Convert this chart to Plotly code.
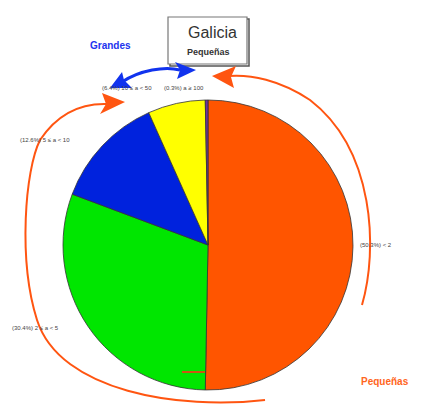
import plotly.graph_objects as go

# datos (tamano de empresa, Galicia)
tramos = ["< 2", "2 ≤ a < 5", "5 ≤ a < 10", "10 ≤ a < 50", "a ≥ 100"]
porcentajes = [50.3, 30.4, 12.6, 6.4, 0.3]
colores = ["#FF5500", "#00E600", "#0022DD", "#FFFF00", "#7030A0"]

W, H = 428, 409
OFF = 8  # margen del body de la pagina


def fx(x):
    return (x - OFF) / W


def fy(y):
    return 1 - (y - OFF) / H


def px(x, y):
    # pixel -> coordenadas paper
    return "%.4f %.4f" % (fx(x), fy(y))


def ruta(puntos):
    p = "M " + px(*puntos[0])
    for i in range(1, len(puntos), 3):
        p += " C " + ", ".join(px(*q) for q in puntos[i:i + 3])
    return p


def punta(a, b, c, d):
    return "M " + px(*a) + " L " + px(*b) + " L " + px(*c) + " L " + px(*d) + " Z"


fig = go.Figure()
fig.add_trace(go.Pie(
    values=porcentajes, labels=tramos, sort=False, direction="clockwise",
    rotation=0, textinfo="none", hoverinfo="label+percent", showlegend=False,
    marker=dict(colors=colores, line=dict(color="#333333", width=0.8)),
    domain=dict(x=[fx(63), fx(353)], y=[fy(390), fy(100)]),
))

etiquetas = [
    (358, 245, "left"),
    (10, 328, "left"),
    (18, 140, "left"),
    (100, 88, "left"),
    (206, 88, "right"),
]
anot = []
for (x, y, al), t, v in zip(etiquetas, tramos, porcentajes):
    anot.append(dict(x=fx(x), y=fy(y), xref="paper", yref="paper", xanchor=al, yanchor="middle",
                     text="(%.1f%%) %s" % (v, t), showarrow=False,
                     font=dict(size=6, color="#444444", family="Liberation Sans")))


def texto(x, y, t, size, color):
    return dict(x=fx(x), y=fy(y), xref="paper", yref="paper", xanchor="center", yanchor="middle",
                text=t, showarrow=False, font=dict(size=size, color=color, family="Liberation Sans"))


anot += [
    texto(212, 32, "Galicia", 16, "#333333"),
    texto(208, 52, "<b>Pequeñas</b>", 9, "#333333"),
    texto(110, 45, "<b>Grandes</b>", 10, "#2233EE"),
    texto(385, 381, "<b>Pequeñas</b>", 10, "#FF6622"),
]

naranja = "#FF5511"
azul = "#1133EE"
formas = [
    # sombra y caja del titulo
    dict(type="rect", xref="paper", yref="paper", x0=fx(170), x1=fx(249), y0=fy(66), y1=fy(19),
         line=dict(color="#555555", width=1.5), fillcolor="white", layer="below"),
    dict(type="rect", xref="paper", yref="paper", x0=fx(168), x1=fx(247), y0=fy(64), y1=fy(17),
         line=dict(color="#777777", width=1.2), fillcolor="white", layer="below"),
    # flecha naranja derecha
    dict(type="path", xref="paper", yref="paper", line=dict(color=naranja, width=2),
         path=ruta([(362, 305), (378, 250), (375, 150), (310, 100), (280, 80), (250, 74), (228, 76)])),
    dict(type="path", xref="paper", yref="paper", line=dict(color=naranja, width=0), fillcolor=naranja,
         path=punta((212, 76), (236, 66), (231, 77), (234, 88))),
    # flecha naranja izquierda
    dict(type="path", xref="paper", yref="paper", line=dict(color=naranja, width=2),
         path=ruta([(265, 400), (180, 410), (60, 392), (37, 320), (18, 260), (25, 170), (40, 140),
                    (60, 110), (85, 103), (108, 104)])),
    dict(type="path", xref="paper", yref="paper", line=dict(color=naranja, width=0), fillcolor=naranja,
         path=punta((125, 102), (102, 93), (106, 104), (100, 114))),
    # marca naranja en la base
    dict(type="line", xref="paper", yref="paper", x0=fx(182), x1=fx(205), y0=fy(372), y1=fy(372),
         line=dict(color="#CC5511", width=2)),
    # doble flecha azul
    dict(type="path", xref="paper", yref="paper", line=dict(color=azul, width=3),
         path=ruta([(122, 82), (140, 70), (165, 66), (180, 70)])),
    dict(type="path", xref="paper", yref="paper", line=dict(color=azul, width=0), fillcolor=azul,
         path=punta((110, 88), (122, 72), (124, 80), (132, 88))),
    dict(type="path", xref="paper", yref="paper", line=dict(color=azul, width=0), fillcolor=azul,
         path=punta((196, 70), (175, 62), (180, 70), (177, 79))),
]

fig.update_layout(width=W, height=H, margin=dict(l=0, r=0, t=0, b=0),
                  paper_bgcolor="white", plot_bgcolor="white",
                  annotations=anot, shapes=formas)
fig.write_html("out.html")
